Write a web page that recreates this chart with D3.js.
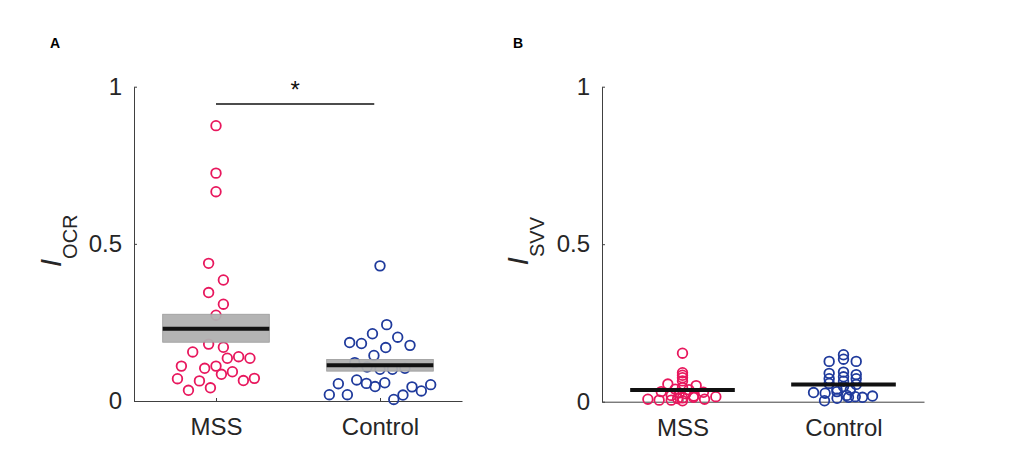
<!DOCTYPE html>
<html lang="en">
<head>
<meta charset="utf-8">
<title>OCR and SVV index</title>
<script src="https://d3js.org/d3.v7.min.js"></script>
<style>
  body { margin: 0; background: #fff; }
  svg { display: block; font-family: "Liberation Sans", Arial, Helvetica, sans-serif; }
  .axis path, .axis line { stroke: #404040; stroke-width: 1; }
  .axis text { fill: #262626; font-size: 24px; }
</style>
</head>
<body>
<div id="chart"></div>
<script>
// categories and ticks
const groups = ["MSS", "Control"];
const yTicks = [0, 0.5, 1];

// panel A: OCR index, values and beeswarm offsets (in category units)
const ocrMSS = [0.876, 0.725, 0.666, 0.438, 0.385, 0.345, 0.308, 0.273, 0.181, 0.171,
  0.156, 0.136, 0.141, 0.136, 0.111, 0.104, 0.111, 0.093, 0.085, 0.071,
  0.064, 0.065, 0.072, 0.034, 0.042];
const ocrMSSOffset = [0, 0, 0, -0.045, 0.045, -0.045, 0.045, 0, -0.045, 0.045,
  -0.142, 0.069, 0.138, 0.207, -0.211, -0.069, 0, 0.1, 0.033, -0.235,
  -0.101, 0.167, 0.234, -0.168, -0.034];
const ocrControl = [0.430, 0.243, 0.214, 0.203, 0.186, 0.183, 0.177, 0.170, 0.145, 0.122,
  0.108, 0.101, 0.101, 0.104, 0.067, 0.056, 0.046, 0.058, 0.055, 0.020,
  0.020, 0.005, 0.019, 0.045, 0.032, 0.052];
const ocrControlOffset = [0, 0.041, -0.046, 0.108, -0.185, -0.113, 0.183, 0.035, -0.037, -0.154,
  -0.079, 0, 0.076, 0.152, -0.142, -0.083, -0.030, 0.029, -0.254, -0.309,
  -0.199, 0.084, 0.140, 0.195, 0.252, 0.309];
const ocrMean = [0.230, 0.114];
const ocrLow = [0.187, 0.095];
const ocrHigh = [0.276, 0.132];

// panel B: SVV index
const svvMSS = [0.154, 0.092, 0.084, 0.076, 0.066, 0.056, 0.051, 0.045, 0.040, 0.038,
  0.032, 0.030, 0.028, 0.025, 0.020, 0.018, 0.012, 0.008, 0.005, 0.005,
  0.003, 0.014, 0.008, 0.016, 0.010];
const svvMSSOffset = [0, 0, 0, 0, 0, -0.091, 0.085, 0, -0.045, 0.04,
  -0.132, 0.13, -0.02, 0.02, -0.07, 0.07, 0, -0.215, -0.145, -0.07,
  0, 0.068, 0.137, 0.207, -0.03];
const svvControl = [0.149, 0.135, 0.128, 0.128, 0.094, 0.090, 0.086, 0.079, 0.073, 0.073,
  0.065, 0.058, 0.055, 0.048, 0.040, 0.037, 0.032, 0.029, 0.027, 0.020,
  0.016, 0.014, 0.018, 0.011, 0.003, 0.014];
const svvControlOffset = [0, 0, -0.089, 0.079, 0, -0.089, 0.079, 0, -0.089, 0.079,
  0, -0.089, 0.079, 0, -0.041, 0.042, -0.041, -0.186, -0.114, 0.02,
  0.073, 0.118, 0.18, -0.04, -0.118, 0.031];
const svvMean = [0.037, 0.055];

const colors = ["#e8175d", "#1f3a9c"];

const width = 1021, height = 452;
const svg = d3.select("#chart").append("svg")
  .attr("width", width)
  .attr("height", height);

function drawPanel(p) {
  const x = d3.scaleLinear().domain([0.5, 2.5]).range([p.left, p.right]);
  const y = d3.scaleLinear().domain([0, 1]).range([p.bottom, p.top]);
  const g = svg.append("g");

  // axes
  g.append("g")
    .attr("class", "axis")
    .attr("transform", `translate(${p.left},0)`)
    .call(d3.axisLeft(y).tickValues(yTicks).tickFormat(d => d)
      .tickSize(-3).tickSizeOuter(0).tickPadding(12));
  g.append("g")
    .attr("class", "axis")
    .attr("transform", `translate(0,${p.bottom})`)
    .call(d3.axisBottom(x).tickValues([1, 2]).tickFormat((d, i) => groups[i])
      .tickSize(-3).tickSizeOuter(0).tickPadding(17));

  // points
  p.series.forEach((s, i) => {
    g.append("g").selectAll("circle")
      .data(s.values)
      .join("circle")
      .attr("cx", (d, j) => x(i + 1 + s.offsets[j]))
      .attr("cy", d => y(d))
      .attr("r", 4.8)
      .attr("fill", "none")
      .attr("stroke", colors[i])
      .attr("stroke-width", 1.8);
  });

  // confidence band and mean
  const half = 0.325;
  if (p.low) {
    g.append("g").selectAll("rect")
      .data(p.mean)
      .join("rect")
      .attr("x", (d, i) => x(i + 1 - half))
      .attr("width", (d, i) => x(i + 1 + half) - x(i + 1 - half))
      .attr("y", (d, i) => y(p.high[i]))
      .attr("height", (d, i) => y(p.low[i]) - y(p.high[i]))
      .attr("fill", "#b0b0b0")
      .attr("fill-opacity", 0.95)
      .attr("stroke", "#9a9a9a")
      .attr("stroke-width", 0.8);
  }
  g.append("g").selectAll("line")
    .data(p.mean)
    .join("line")
    .attr("x1", (d, i) => x(i + 1 - half))
    .attr("x2", (d, i) => x(i + 1 + half))
    .attr("y1", d => y(d))
    .attr("y2", d => y(d))
    .attr("stroke", "#111")
    .attr("stroke-width", 4);

  // y label with subscript
  const lab = g.append("text")
    .attr("transform", `translate(${p.labelX},${(p.top + p.bottom) / 2 - 3}) rotate(-90)`)
    .attr("text-anchor", "middle")
    .attr("fill", "#262626");
  lab.append("tspan").attr("font-style", "italic").attr("font-size", 30).text("I");
  lab.append("tspan").attr("font-size", 20).attr("dy", 16).text(p.sub);

  // panel letter
  g.append("text")
    .attr("x", p.letterX)
    .attr("y", 48)
    .attr("font-size", 14)
    .attr("font-weight", "bold")
    .attr("fill", "#000")
    .text(p.letter);

  return { x, y, g };
}

const a = drawPanel({
  left: 134, right: 462, top: 86.7, bottom: 401,
  series: [{ values: ocrMSS, offsets: ocrMSSOffset }, { values: ocrControl, offsets: ocrControlOffset }],
  mean: ocrMean, low: ocrLow, high: ocrHigh,
  sub: "OCR", labelX: 61, letter: "A", letterX: 50
});

drawPanel({
  left: 602, right: 924, top: 86.7, bottom: 401.7,
  series: [{ values: svvMSS, offsets: svvMSSOffset }, { values: svvControl, offsets: svvControlOffset }],
  mean: svvMean,
  sub: "SVV", labelX: 528, letter: "B", letterX: 513
});

// significance bar between groups in panel A
const sigY = a.y(0.945);
a.g.append("line")
  .attr("x1", a.x(1)).attr("x2", a.x(1.965))
  .attr("y1", sigY).attr("y2", sigY)
  .attr("stroke", "#111").attr("stroke-width", 1.3);
a.g.append("text")
  .attr("x", (a.x(1) + a.x(1.965)) / 2)
  .attr("y", sigY - 6)
  .attr("text-anchor", "middle")
  .attr("font-size", 24)
  .attr("fill", "#111")
  .text("*");
</script>
</body>
</html>
